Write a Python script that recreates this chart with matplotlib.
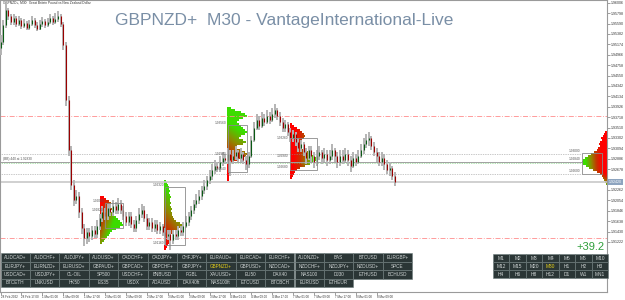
import numpy as np
import matplotlib
matplotlib.use("Agg")
import matplotlib.pyplot as plt
from matplotlib.patches import Rectangle, PathPatch
from matplotlib.path import Path
from matplotlib.colors import LinearSegmentedColormap

plt.rcParams['font.family'] = ['Liberation Sans', 'DejaVu Sans']

# ---------------- data ----------------
title_text = "GBPNZD+  M30 - VantageInternational-Live"
description = "GBPNZD+, M30:  Great Britain Pound vs New Zealand Dollar"
profit_text = "+39.2"
level_note = "(BB) 440 at 1.92830"

first_open = 1.9510
closes = [1.9522, 1.9556, 1.9586, 1.9574, 1.9562, 1.9570, 1.9558, 1.9566, 1.9554, 1.9560,
          1.9550, 1.9558, 1.9566, 1.9556, 1.9548, 1.9558, 1.9564, 1.9556, 1.9562, 1.9570,
          1.9562, 1.9568, 1.9574, 1.9558, 1.9516, 1.9406, 1.9306, 1.9236, 1.9206, 1.9214,
          1.9182, 1.9150, 1.9130, 1.9142, 1.9134, 1.9146, 1.9138, 1.9154, 1.9170, 1.9182,
          1.9174, 1.9190, 1.9182, 1.9194, 1.9186, 1.9198, 1.9186, 1.9174, 1.9162, 1.9174,
          1.9158, 1.9150, 1.9166, 1.9178, 1.9186, 1.9170, 1.9154, 1.9162, 1.9150, 1.9158,
          1.9146, 1.9154, 1.9142, 1.9134, 1.9138, 1.9126, 1.9138, 1.9134, 1.9146, 1.9142,
          1.9154, 1.9162, 1.9174, 1.9186, 1.9198, 1.9206, 1.9214, 1.9226, 1.9234, 1.9246,
          1.9254, 1.9266, 1.9274, 1.9270, 1.9282, 1.9290, 1.9286, 1.9298, 1.9286, 1.9294,
          1.9302, 1.9290, 1.9298, 1.9286, 1.9278, 1.9294, 1.9326, 1.9350, 1.9366, 1.9354,
          1.9370, 1.9362, 1.9374, 1.9366, 1.9378, 1.9386, 1.9374, 1.9362, 1.9350, 1.9358,
          1.9342, 1.9330, 1.9338, 1.9322, 1.9310, 1.9318, 1.9302, 1.9290, 1.9306, 1.9294,
          1.9282, 1.9294, 1.9302, 1.9290, 1.9298, 1.9286, 1.9294, 1.9306, 1.9294, 1.9282,
          1.9294, 1.9286, 1.9298, 1.9286, 1.9274, 1.9290, 1.9282, 1.9294, 1.9306, 1.9318,
          1.9326, 1.9330, 1.9314, 1.9302, 1.9294, 1.9282, 1.9290, 1.9278, 1.9266, 1.9270,
          1.9254, 1.9242]
highs = [1.9536, 1.9566, 1.9598, 1.9590, 1.9578, 1.9578, 1.9574, 1.9574, 1.9570, 1.9568,
         1.9564, 1.9566, 1.9574, 1.9570, 1.9562, 1.9566, 1.9572, 1.9568, 1.9570, 1.9578,
         1.9574, 1.9580, 1.9584, 1.9578, 1.9562, 1.9522, 1.9414, 1.9314, 1.9246, 1.9226,
         1.9222, 1.9190, 1.9158, 1.9150, 1.9150, 1.9154, 1.9154, 1.9166, 1.9178, 1.9194,
         1.9190, 1.9198, 1.9198, 1.9206, 1.9202, 1.9210, 1.9206, 1.9194, 1.9182, 1.9182,
         1.9182, 1.9166, 1.9174, 1.9190, 1.9198, 1.9194, 1.9178, 1.9170, 1.9170, 1.9166,
         1.9166, 1.9162, 1.9158, 1.9150, 1.9146, 1.9146, 1.9146, 1.9146, 1.9154, 1.9154,
         1.9162, 1.9174, 1.9182, 1.9194, 1.9206, 1.9218, 1.9226, 1.9234, 1.9246, 1.9254,
         1.9266, 1.9278, 1.9286, 1.9282, 1.9294, 1.9302, 1.9298, 1.9310, 1.9306, 1.9306,
         1.9314, 1.9306, 1.9310, 1.9302, 1.9294, 1.9302, 1.9334, 1.9362, 1.9378, 1.9374,
         1.9382, 1.9378, 1.9386, 1.9382, 1.9390, 1.9398, 1.9390, 1.9382, 1.9370, 1.9366,
         1.9362, 1.9350, 1.9346, 1.9342, 1.9330, 1.9326, 1.9322, 1.9310, 1.9314, 1.9314,
         1.9302, 1.9306, 1.9314, 1.9306, 1.9310, 1.9306, 1.9306, 1.9318, 1.9310, 1.9302,
         1.9306, 1.9306, 1.9310, 1.9306, 1.9294, 1.9302, 1.9298, 1.9306, 1.9318, 1.9330,
         1.9338, 1.9342, 1.9334, 1.9322, 1.9310, 1.9302, 1.9302, 1.9298, 1.9286, 1.9282,
         1.9274, 1.9262]
lows = [1.9496, 1.9516, 1.9550, 1.9566, 1.9556, 1.9556, 1.9552, 1.9554, 1.9548, 1.9550,
        1.9546, 1.9546, 1.9554, 1.9550, 1.9544, 1.9546, 1.9552, 1.9550, 1.9552, 1.9558,
        1.9556, 1.9558, 1.9562, 1.9552, 1.9506, 1.9394, 1.9294, 1.9226, 1.9194, 1.9198,
        1.9170, 1.9138, 1.9114, 1.9118, 1.9122, 1.9126, 1.9130, 1.9130, 1.9146, 1.9162,
        1.9166, 1.9166, 1.9174, 1.9174, 1.9178, 1.9178, 1.9178, 1.9166, 1.9154, 1.9154,
        1.9150, 1.9142, 1.9142, 1.9158, 1.9170, 1.9162, 1.9146, 1.9146, 1.9142, 1.9142,
        1.9138, 1.9138, 1.9134, 1.9116, 1.9126, 1.9106, 1.9118, 1.9126, 1.9126, 1.9134,
        1.9134, 1.9150, 1.9154, 1.9166, 1.9178, 1.9190, 1.9198, 1.9206, 1.9218, 1.9226,
        1.9238, 1.9246, 1.9258, 1.9262, 1.9262, 1.9274, 1.9278, 1.9278, 1.9254, 1.9278,
        1.9286, 1.9282, 1.9282, 1.9278, 1.9266, 1.9270, 1.9290, 1.9322, 1.9346, 1.9346,
        1.9350, 1.9354, 1.9358, 1.9358, 1.9362, 1.9370, 1.9366, 1.9354, 1.9342, 1.9342,
        1.9334, 1.9322, 1.9322, 1.9314, 1.9302, 1.9302, 1.9294, 1.9278, 1.9286, 1.9282,
        1.9270, 1.9274, 1.9286, 1.9278, 1.9282, 1.9274, 1.9278, 1.9286, 1.9282, 1.9270,
        1.9274, 1.9278, 1.9282, 1.9274, 1.9262, 1.9270, 1.9274, 1.9278, 1.9290, 1.9298,
        1.9310, 1.9314, 1.9306, 1.9294, 1.9282, 1.9274, 1.9274, 1.9266, 1.9258, 1.9254,
        1.9246, 1.9234]

x_tick_bars = [0, 8, 16, 24, 32, 40, 48, 56, 64, 72, 80, 88, 96, 104, 112, 120, 128, 136, 144]
x_tick_labels = ["28 Feb 2022", "28 Feb 17:00", "1 Mar 01:00", "1 Mar 09:00", "1 Mar 17:00",
                 "2 Mar 01:00", "2 Mar 09:00", "2 Mar 17:00", "3 Mar 01:00", "3 Mar 09:00",
                 "3 Mar 17:00", "4 Mar 01:00", "4 Mar 09:00", "4 Mar 17:00", "7 Mar 01:00",
                 "7 Mar 09:00", "7 Mar 17:00", "8 Mar 01:00", "8 Mar 09:00"]
y_tick_values = [1.96006, 1.95798, 1.95590, 1.95382, 1.95174, 1.94966, 1.94758, 1.94550,
                 1.94342, 1.94134, 1.93926, 1.93718, 1.93510, 1.93302, 1.93094, 1.92886,
                 1.92678, 1.92470, 1.92262, 1.92054, 1.91846, 1.91638, 1.91430, 1.91222]

range_high = 1.9374
range_low = 1.9130

# volume profiles: anchor bar, top level price, counts per level
p1_anchor, p1_top = 38.1, 1.9212
p1_counts = [4, 6, 9, 11, 10, 10, 12, 11, 13, 14, 16, 18, 20, 22, 23, 20, 16, 12, 10, 9, 7, 5, 4, 2]
p2_anchor, p2_top = 62.6, 1.9244
p2_counts = [2, 3, 4, 5, 5, 6, 5, 6, 7, 6, 6, 7, 6, 7, 8, 7, 8, 8, 9, 10, 12, 16, 19, 18,
             14, 10, 8, 7, 6, 6, 5, 5, 4, 3, 2]
p3_anchor, p3_top = 86.7, 1.9390
p3_counts = [4, 8, 14, 18, 20, 16, 12, 10, 12, 14, 16, 18, 20, 18, 14, 12, 16, 19, 16, 10,
             8, 14, 18, 20, 19, 16, 10, 6, 4, 4, 3, 3, 3, 3, 2, 2, 2]
p4_anchor, p4_top = 110.8, 1.9358
p4_counts = [2, 4, 7, 10, 12, 14, 15, 14, 12, 11, 10, 11, 12, 14, 18, 22, 25, 27, 26, 24,
             20, 15, 10, 7, 5, 4, 3, 2]
p5_anchor, p5_top = 232.2, 1.9342
p5_counts = [2, 3, 4, 6, 5, 7, 8, 7, 9, 10, 13, 16, 19, 22, 24, 25, 24, 21, 18, 14, 10, 7,
             5, 4, 3, 2, 1]
profile_step = 0.0004

# profile boxes: start bar, end bar, high, low
boxes = [(40.0, 46.9, 1.9200, 1.9150),
         (63.0, 70.6, 1.9232, 1.9116),
         (87.1, 94.3, 1.9356, 1.9262),
         (110.8, 121.1, 1.9330, 1.9266),
         (222.6, 230.2, 1.9300, 1.9258)]
box_labels = [(40.0, [1.9200, 1.9182]),
              (63.0, [1.9232, 1.9116]),
              (87.1, [1.9356, 1.9294, 1.9264]),
              (110.8, [1.9326, 1.9290, 1.9268]),
              (222.6, [1.9300, 1.9284, 1.9260])]
level_lines = [1.9298, 1.9258]
level_solid = 1.9283
level_green = 1.9280

symbols_rows = [
    ["AUDCAD+", "AUDCHF+", "AUDJPY+", "AUDUSD+", "CADCHF+", "CADJPY+", "CHFJPY+",
     "EURAUD+", "EURCAD+", "EURCHF+", "AUDNZD+", "BAS", "BTCUSD", "EURGBP+"],
    ["EURJPY+", "EURNZD+", "EURUSD+", "GBPAUD+", "GBPCAD+", "GBPCHF+", "GBPJPY+",
     "GBPNZD+", "GBPUSD+", "NZDCAD+", "NZDCHF+", "NZDJPY+", "NZDUSD+", "SPCE"],
    ["USDCAD+", "USDJPY+", "CL-OIL", "SP500", "USDCHF+", "BNBUSD", "FGBL",
     "XAUUSD+", "EU50", "DAX40", "NAS100", "DJ30", "ETHUSD", "BCHUSD"],
    ["BTCETH", "LNKUSD", "HK50", "ES35", "USDX", "ADAUSD", "DAX40ft",
     "NAS100ft", "ETCUSD", "BTCBCH", "EURUSD", "ETHEUR"],
]
tf_rows = [["M1", "M2", "M3", "M4", "M5", "M6", "M10"],
           ["M12", "M15", "M20", "M30", "H1", "H2", "H3"],
           ["H4", "H6", "H8", "H12", "D1", "W1", "MN1"]]
active_symbol = "GBPNZD+"
active_tf = "M30"

# ---------------- figure ----------------
W, H = 625, 300
fig = plt.figure(figsize=(W / 100, H / 100), dpi=100)
fig.patch.set_facecolor('white')
ax = fig.add_axes([0, 8.5 / H, 607 / W, 291.5 / H])
ax.set_facecolor('white')

XLIM = (-0.23, 232.2)
YLIM = (1.9606 - 0.0002 * 291.5, 1.9606)
BAR_PER_COUNT = 1 / 2.612

n = len(closes)
xs = np.arange(n)
opens = np.array([first_open] + closes[:-1])
c = np.array(closes)
hi = np.maximum(np.array(highs), np.maximum(opens, c))
lo = np.minimum(np.array(lows), np.minimum(opens, c))

cmap = LinearSegmentedColormap.from_list('prof', ['#ff0000', '#c83200', '#8c8c00', '#3cdc00'])


def draw_profile(anchor, top, counts, direction, a, bt, bv, bb=0.0):
    counts = np.asarray(counts, float)
    widths = counts * BAR_PER_COUNT
    levels = top - profile_step * np.arange(len(counts))
    verts, codes = [], []
    for lv, w in zip(levels, widths):
        x0, x1 = anchor, anchor + direction * w
        y0, y1 = lv - profile_step / 2, lv + profile_step / 2
        verts += [(x0, y0), (x1, y0), (x1, y1), (x0, y1), (x0, y0)]
        codes += [Path.MOVETO, Path.LINETO, Path.LINETO, Path.LINETO, Path.CLOSEPOLY]
    patch = PathPatch(Path(verts, codes), facecolor='none', edgecolor='none')
    ax.add_patch(patch)
    maxw = widths.max()
    T, V = np.meshgrid(np.linspace(0, 1, 120), np.linspace(0, 1, 120))
    Hh = np.clip(a + bt * T + bv * V + bb * np.clip((V - 0.75) * 4, 0, 1), 0, 1)
    img = cmap(Hh)
    ytop = levels[0] + profile_step / 2
    ybot = levels[-1] - profile_step / 2
    extent = [anchor, anchor + direction * maxw, ybot, ytop]
    im = ax.imshow(img, extent=extent, origin='upper', aspect='auto',
                   interpolation='bilinear', zorder=1)
    im.set_clip_path(patch)


draw_profile(p1_anchor, p1_top, p1_counts, 1, -0.2, 1.2, 0.9)
draw_profile(p2_anchor, p2_top, p2_counts, 1, 1.1, 0.4, -1.2)
draw_profile(p3_anchor, p3_top, p3_counts, 1, 1.3, 0.3, -1.6)
draw_profile(p4_anchor, p4_top, p4_counts, 1, -0.3, 1.3, 0.2)
draw_profile(p5_anchor, p5_top, p5_counts, -1, -0.4, 1.5, 0.2, 1.0)

# horizontal lines
ax.axhline(range_high, color='#ff8c8c', lw=0.6, ls=(0, (6, 2, 1, 2)), zorder=2)
ax.axhline(range_low, color='#ff8c8c', lw=0.6, ls=(0, (6, 2, 1, 2)), zorder=2)
for lv in level_lines:
    ax.plot([XLIM[0], boxes[-1][0]], [lv, lv], color='#909090', lw=0.5, ls=(0, (1, 1.5)), zorder=2)
ax.plot([XLIM[0], boxes[-1][0]], [level_solid, level_solid], color='#a0a0a0', lw=0.7, zorder=2)
ax.plot([XLIM[0], boxes[-1][0]], [level_green, level_green], color='#66cc66', lw=0.5, ls=(0, (1, 1.5)), zorder=2)
ax.axhline(c[-1], color='#c8c8c8', lw=1.2, zorder=2)
ax.text(0.8, level_solid + 0.0001, level_note, fontsize=2.3, color='#555555', ha='left', va='bottom', zorder=5)

# boxes and labels
for (b0, b1, bh, bl) in boxes:
    ax.add_patch(Rectangle((b0, bl), b1 - b0, bh - bl, fill=False, ec='#8a8a8a', lw=0.6, zorder=4))
for (bx, vals) in box_labels:
    for v in vals:
        ax.text(bx - 0.5, v, f"{v:.5f}", fontsize=2.3, color='#555555', ha='right', va='bottom', zorder=5)

# candles
ax.vlines(xs, lo, hi, color='#b4b4b4', lw=1.4, zorder=3)
up = c >= opens
ax.vlines(xs[up], opens[up], c[up], color='#0a5a14', lw=0.8, zorder=3)
ax.vlines(xs[~up], opens[~up], c[~up], color='#9a0000', lw=0.8, zorder=3)

ax.set_xlim(*XLIM)
ax.set_ylim(*YLIM)

# axes styling
for s in ax.spines.values():
    s.set_color('#9a9a9a')
    s.set_linewidth(0.8)
ax.yaxis.tick_right()
ax.set_yticks(y_tick_values)
ylabels = [f"{v:.5f}" if abs(v - c[-1]) > 0.0009 else "" for v in y_tick_values]
ax.set_yticklabels(ylabels)
ax.tick_params(axis='y', labelsize=2.6, length=2, width=0.4, color='#555555', pad=1, labelcolor='#333333')
ax.set_xticks(x_tick_bars)
ax.set_xticklabels(x_tick_labels, ha='left')
ax.tick_params(axis='x', labelsize=2.2, length=2.5, width=0.4, color='#555555', pad=0.1, labelcolor='#333333')

# current price label
ax.annotate(f"{c[-1]:.5f}", xy=(1.0, c[-1]), xycoords=('axes fraction', 'data'),
            xytext=(1.5, 0), textcoords='offset points', fontsize=2.6, color='white',
            va='center', ha='left',
            bbox=dict(boxstyle='square,pad=0.25', fc='#8da4bf', ec='none'), zorder=6,
            annotation_clip=False)

# overlay for texts and button panels (pixel coordinates)
ov = fig.add_axes([0, 0, 1, 1], zorder=5)
ov.set_xlim(0, W)
ov.set_ylim(H, 0)
ov.axis('off')
ov.patch.set_alpha(0)

ov.text(115, 20, title_text, fontsize=12.5, color='#7a8fa6', ha='left', va='center')
ov.text(3, 3, description, fontsize=2.3, color='#333333', ha='left', va='center')
ov.text(605, 247, profit_text, fontsize=8, color='#2e9e3a', ha='right', va='center')

cw, ch = 29.4, 8.4
x0, y0 = 0.5, 253.3
for r, row in enumerate(symbols_rows):
    for k, name in enumerate(row):
        ov.add_patch(Rectangle((x0 + k * cw, y0 + r * ch), cw, ch, fc='#2b3636', ec='#6e7c7c', lw=0.4))
        col = '#e6cf1a' if name == active_symbol else '#cfd4d4'
        ov.text(x0 + k * cw + cw / 2, y0 + r * ch + ch / 2 + 0.2, name, fontsize=3.3, color=col,
                ha='center', va='center')

tw, th = 16.45, 8.1
tx0, ty0 = 493.0, 254.0
for r, row in enumerate(tf_rows):
    for k, name in enumerate(row):
        ov.add_patch(Rectangle((tx0 + k * tw, ty0 + r * th), tw, th, fc='#2b3636', ec='#6e7c7c', lw=0.4))
        col = '#e6cf1a' if name == active_tf else '#cfd4d4'
        ov.text(tx0 + k * tw + tw / 2, ty0 + r * th + th / 2 + 0.2, name, fontsize=3.5, color=col,
                ha='center', va='center')

fig.savefig('out.png', dpi=100, facecolor='white')
